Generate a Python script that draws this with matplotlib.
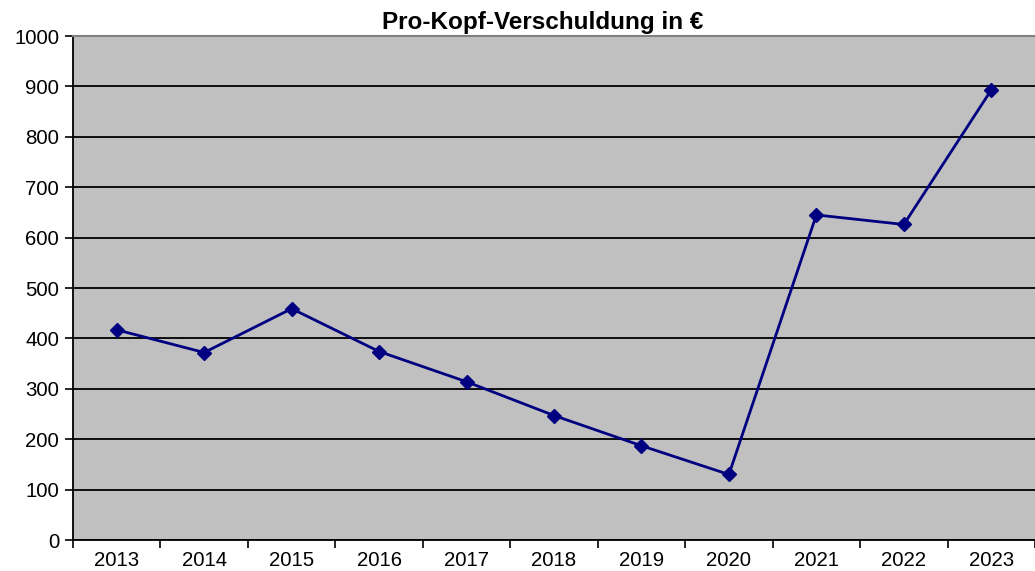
import matplotlib
matplotlib.use("Agg")
import matplotlib.pyplot as plt
import numpy as np

years = ["2013", "2014", "2015", "2016", "2017", "2018", "2019", "2020", "2021", "2022", "2023"]
values = [417, 372, 459, 374, 314, 247, 187, 130, 645, 626, 893]
yticks = [0, 100, 200, 300, 400, 500, 600, 700, 800, 900, 1000]
title = "Pro-Kopf-Verschuldung in €"

plt.rcParams['font.family'] = ['Liberation Sans', 'DejaVu Sans']

fig = plt.figure(figsize=(10.35, 5.71), dpi=100)
ax = fig.add_axes([73/1035, 1 - 540/571, 1 - 73/1035, (540 - 36)/571])
ax.set_facecolor("#C0C0C0")

x = np.arange(len(years))
ax.plot(x, values, color="#000080", lw=2, marker="D", ms=7, zorder=3)

ax.set_xlim(-0.5, len(years) - 0.5)
ax.set_ylim(0, 1000)
ax.set_yticks(yticks)
ax.set_yticklabels([str(v) for v in yticks], fontsize=14.7)
ax.yaxis.grid(True, color="black", lw=1.3)
ax.set_axisbelow(True)

ax.set_xticks(np.arange(len(years) + 1) - 0.5)
ax.set_xticklabels([])
ax.set_xticks(x, minor=True)
ax.set_xticklabels(years, minor=True, fontsize=14.7)
ax.tick_params(axis='x', which='minor', length=0, pad=8)
ax.tick_params(axis='x', which='major', length=6, width=1.2, direction='out')
ax.tick_params(axis='y', length=6, width=1.2, direction='out', pad=4)

for s in ["left", "bottom"]:
    ax.spines[s].set_color("black")
    ax.spines[s].set_linewidth(1.3)
ax.spines["top"].set_color("#808080")
ax.spines["top"].set_linewidth(1.5)
ax.spines["right"].set_visible(False)

fig.text(543/1035, 1 - 22/571, title, ha="center", va="center", fontsize=17.5, fontweight="bold")

fig.savefig("out.png", dpi=100)
